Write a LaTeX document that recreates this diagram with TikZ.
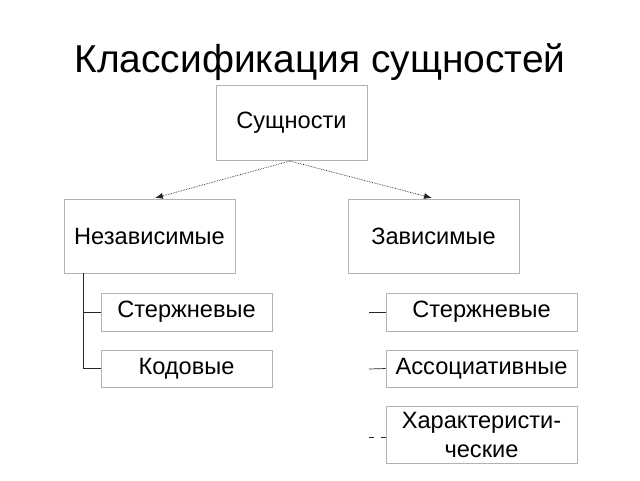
\documentclass[tikz,border=0pt]{standalone}
\usepackage{fontspec}
\setmainfont{Liberation Sans}
\usetikzlibrary{arrows.meta}

\tikzset{
  box/.style={draw=gray!60, fill=white, line width=0.8pt, inner sep=0pt,
    minimum width=171pt, align=center, font=\fontsize{23.6pt}{29pt}\selectfont},
  link/.style={line width=0.7pt, gray!30!black},
  flow/.style={link, densely dotted, -{Latex[length=8pt,width=6pt]}}
}

\begin{document}
\begin{tikzpicture}[x=1pt,y=-1pt]
	\useasboundingbox (0,0) rectangle (640,480);

	% title
	\node (title) at (320,62) {\fontsize{38.9pt}{44pt}\selectfont Классификация сущностей};

	% upper levels
	\node[box, minimum width=151pt, minimum height=75pt] (ent) at (291.5,122.5) {Сущности};
	\node[box, minimum height=74pt] (indep) at (149.5,236) {Независимые};
	\node[box, minimum height=74pt] (dep) at (433.5,236) {Зависимые};

	% independent kinds
	\node[box, minimum height=38pt] (coreL) at (186.5,312) {Стержневые};
	\node[box, minimum height=37pt] (code) at (186.5,368.5) {Кодовые};

	% dependent kinds
	\node[box, minimum width=191pt, minimum height=38pt] (coreR) at (481.5,312) {Стержневые};
	\node[box, minimum width=191pt, minimum height=37pt] (assoc) at (481.5,368.5) {Ассоциативные};
	\node[box, minimum width=191pt, minimum height=57pt] (charact) at (481.5,434.5) {Характеристи-\\ческие};

	% arrows
	\coordinate (split) at (290,161);
	\draw[flow] (split) -- (155,198);
	\draw[flow] (split) -- (432,198);

	% brackets
	\coordinate (trunk) at (83,273);
	\draw[link] (trunk) |- (coreL.west);
	\draw[link] (trunk) |- (code.west);
	\coordinate (r1) at (369,312);
	\coordinate (r2) at (369,369);
	\coordinate (r3) at (369,437);
	\draw[link] (r1) -- (coreR.west);
	\draw[link] (r2) -- (assoc.west);
	\draw[link, dash pattern=on 5pt off 7pt] (r3) -- (charact.west |- r3);

\end{tikzpicture}
\end{document}
